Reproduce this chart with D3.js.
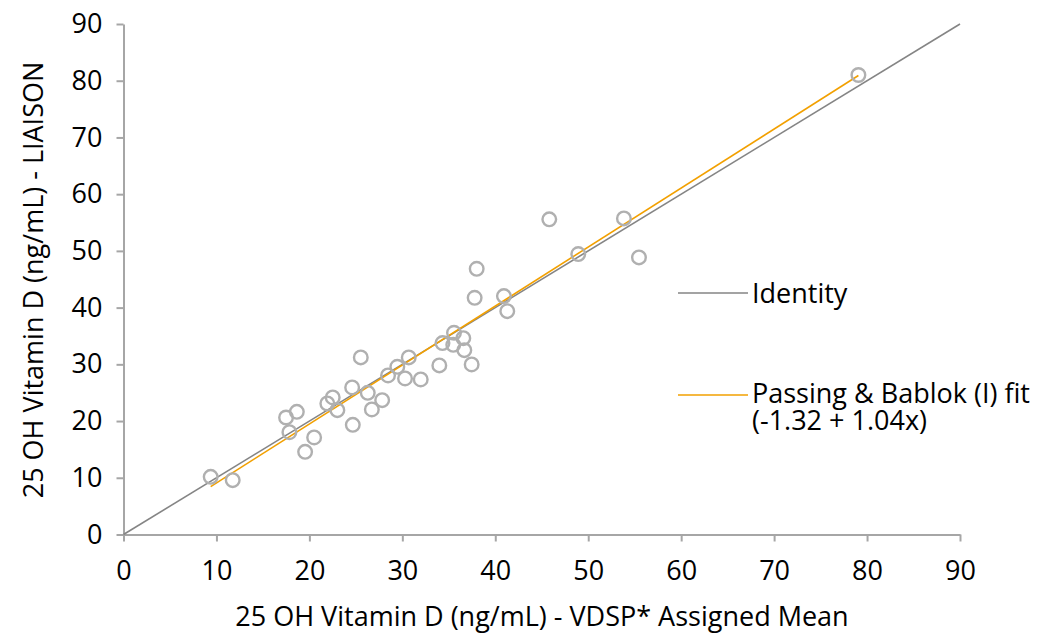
<!DOCTYPE html>
<html>
<head>
<meta charset="utf-8">
<script src="https://cdn.jsdelivr.net/npm/d3@7"></script>
<style>
  body { margin: 0; background: #fff; }
  svg { font-family: "Open Sans", sans-serif; }
</style>
</head>
<body>
<div id="chart"></div>
<script>
// reference values (VDSP assigned mean vs LIAISON)
var vdsp = [9.38, 11.75, 17.49, 18.65, 17.85, 20.51, 19.54, 21.93, 22.51, 23.01,
  24.60, 24.67, 25.53, 26.28, 26.72, 27.83, 28.46, 29.46, 30.29, 30.69,
  31.98, 33.98, 34.32, 35.56, 35.48, 36.56, 36.67, 37.46, 37.78, 38.00,
  40.93, 41.29, 45.81, 48.93, 53.84, 55.46, 79.07];
var liaison = [10.16, 9.58, 20.63, 21.62, 18.04, 17.11, 14.57, 23.10, 24.16, 21.92,
  25.93, 19.33, 31.22, 24.97, 22.05, 23.69, 28.04, 29.56, 27.51, 31.22,
  27.34, 29.81, 33.74, 35.56, 33.44, 34.62, 32.50, 29.98, 41.73, 46.84,
  42.03, 39.38, 55.56, 49.44, 55.73, 48.85, 81.01];
var xTicks = [0, 10, 20, 30, 40, 50, 60, 70, 80, 90];
var yTicks = [0, 10, 20, 30, 40, 50, 60, 70, 80, 90];
var identityLine = [[0, 0], [90, 90]];
var fitIntercept = -1.32, fitSlope = 1.04;
var fitRange = [9.38, 79.07];

var W = 1054, H = 637;
var svg = d3.select('#chart').append('svg')
  .attr('width', W)
  .attr('height', H);

var x = d3.scaleLinear().domain([0, 90]).range([123.5, 960]);
var y = d3.scaleLinear().domain([0, 90]).range([534.5, 24]);

var axisColor = '#a6a6a6';

// x axis
var gx = svg.append('g')
  .attr('transform', 'translate(0,' + y(0) + ')')
  .call(d3.axisBottom(x).tickValues(xTicks).tickSize(7).tickSizeOuter(0).tickPadding(19));
// y axis
var gy = svg.append('g')
  .attr('transform', 'translate(' + x(0) + ',0)')
  .call(d3.axisLeft(y).tickValues(yTicks).tickSize(7).tickSizeOuter(0).tickPadding(14));

[gx, gy].forEach(function (g) {
  g.select('.domain').attr('stroke', axisColor).attr('stroke-width', 2);
  g.selectAll('.tick line').attr('stroke', axisColor).attr('stroke-width', 2);
  g.selectAll('.tick text').attr('fill', '#000').style('font-size', '27px')
    .style('font-family', '"Open Sans", sans-serif');
});

var line = d3.line()
  .x(function (d) { return x(d[0]); })
  .y(function (d) { return y(d[1]); });

// identity
svg.append('path')
  .datum(identityLine)
  .attr('d', line)
  .attr('fill', 'none')
  .attr('stroke', '#858585')
  .attr('stroke-width', 1.6);

// fit line
var fitPts = fitRange.map(function (v) { return [v, fitIntercept + fitSlope * v]; });
svg.append('path')
  .datum(fitPts)
  .attr('d', line)
  .attr('fill', 'none')
  .attr('stroke', '#f2a000')
  .attr('stroke-width', 1.6);

// points
var pts = vdsp.map(function (v, i) { return { x: v, y: liaison[i] }; });
svg.selectAll('circle.pt')
  .data(pts)
  .enter()
  .append('circle')
  .attr('class', 'pt')
  .attr('cx', function (d) { return x(d.x); })
  .attr('cy', function (d) { return y(d.y); })
  .attr('r', 6.8)
  .attr('fill', 'none')
  .attr('stroke', '#b0b0b0')
  .attr('stroke-width', 2.4);

// legend
var legend = [
  { label: ['Identity'], color: '#858585', y: 293, base: 303 },
  { label: ['Passing & Bablok (I) fit', '(-1.32 + 1.04x)'], color: '#f2a000', y: 395, base: 403 }
];
legend.forEach(function (l) {
  svg.append('line')
    .attr('x1', 678).attr('x2', 748)
    .attr('y1', l.y).attr('y2', l.y)
    .attr('stroke', l.color).attr('stroke-width', 1.6);
  var t = svg.append('text')
    .attr('x', 752).attr('y', l.base)
    .attr('fill', '#000')
    .style('font-size', '27px');
  l.label.forEach(function (s, i) {
    t.append('tspan').attr('x', 752).attr('dy', i === 0 ? 0 : 27).text(s);
  });
});

// axis titles
svg.append('text')
  .attr('x', 542).attr('y', 626)
  .attr('text-anchor', 'middle')
  .style('font-size', '27px')
  .text('25 OH Vitamin D (ng/mL) - VDSP* Assigned Mean');

svg.append('text')
  .attr('transform', 'translate(43,280) rotate(-90)')
  .attr('text-anchor', 'middle')
  .style('font-size', '27px')
  .text('25 OH Vitamin D (ng/mL) - LIAISON');
</script>
</body>
</html>
